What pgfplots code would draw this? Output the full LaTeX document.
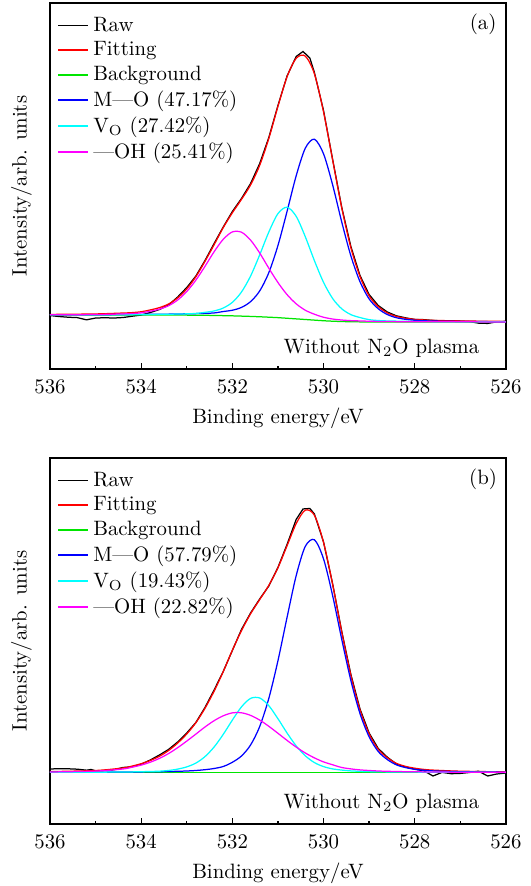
\documentclass[border=0pt]{standalone}
\usepackage{pgfplots}
\usepackage{pgfplotstable}
\pgfplotsset{compat=1.18}

\definecolor{fitred}{rgb}{1,0,0}
\definecolor{bggreen}{rgb}{0,0.9,0}
\definecolor{mocol}{rgb}{0,0,1}
\definecolor{vocol}{rgb}{0,1,1}
\definecolor{ohcol}{rgb}{1,0,1}

% panel (a): background and fitted components (background added), y in arb. units
\pgfplotstableread{
E bg mo vo oh fit
526.0 47.00 47.3 47.2 47.1 47.6
527.0 47.00 47.6 47.3 47.2 48.1
527.6 47.00 48.0 47.4 47.3 48.7
527.8 47.00 48.3 47.5 47.3 49.1
528.0 47.00 48.8 47.6 47.3 49.7
528.2 47.00 49.7 47.7 47.4 50.8
528.4 47.00 51.3 47.9 47.4 52.6
528.6 47.00 54.5 48.1 47.5 56.1
528.8 47.02 60.3 48.5 47.6 62.4
529.0 47.05 70.1 49.4 47.8 73.1
529.2 47.15 87.3 51.5 48.1 92.5
529.4 47.28 113.1 54.4 48.4 121.3
529.6 47.50 146.9 60.2 49.0 161.1
529.8 47.83 184.1 70.5 50.0 209.0
530.0 48.29 215.2 86.7 51.8 257.1
530.2 48.90 229.8 108.4 54.8 295.2
530.4 49.53 220.8 132.3 58.8 312.9
530.6 50.16 193.2 152.7 65.2 310.7
530.8 50.77 157.6 161.8 74.4 292.2
531.0 51.39 123.5 155.4 86.5 262.6
531.2 51.84 96.4 137.0 100.8 230.6
531.4 52.26 78.1 114.2 116.0 203.7
531.6 52.62 67.4 93.0 128.9 184.1
531.8 52.91 61.6 77.0 136.8 169.6
532.0 53.19 58.8 66.7 137.1 156.2
532.2 53.39 57.5 61.0 129.7 141.4
532.4 53.58 56.1 58.1 117.3 124.3
532.6 53.72 55.7 56.7 102.7 107.7
532.8 53.82 55.4 55.6 88.9 92.3
533.0 53.91 55.2 55.2 77.5 80.1
533.2 53.95 55.1 55.0 69.0 71.1
533.4 53.97 54.9 54.8 63.3 65.0
533.6 54.00 54.8 54.7 59.9 61.4
533.8 54.00 54.7 54.6 57.8 59.1
534.0 54.00 54.6 54.5 56.2 57.3
534.2 54.00 54.5 54.4 55.5 56.4
534.4 54.00 54.5 54.4 55.1 56.0
535.0 54.00 54.3 54.3 54.5 55.1
536.0 54.00 54.2 54.2 54.2 54.6
}\fitA

\pgfplotstableread{
E raw
526.0 47.8
526.2 47.2
526.4 45.6
526.6 45.9
526.8 47.4
527.0 47.9
527.2 48.4
527.4 48.2
527.6 48.6
527.8 49.4
528.0 49.6
528.2 51.2
528.4 53.2
528.6 57.0
528.8 63.5
529.0 74.5
529.2 93.5
529.4 122.5
529.6 161.5
529.8 209.5
530.0 258.5
530.2 296.5
530.3 311.0
530.45 317.5
530.6 312.5
530.8 293.0
531.0 263.5
531.2 231.5
531.4 205.5
531.6 185.5
531.8 170.5
532.0 157.5
532.2 142.0
532.4 125.5
532.6 108.5
532.8 93.0
533.0 81.5
533.2 72.0
533.4 64.0
533.6 59.5
533.8 56.5
534.0 54.0
534.2 52.8
534.4 51.5
534.6 51.0
534.8 51.3
535.0 51.0
535.2 49.2
535.4 51.4
535.6 51.8
535.8 52.5
536.0 53.5
}\rawA

% panel (b)
\pgfplotstableread{
E bg mo vo oh fit
526.0 51.5 51.8 51.6 51.7 52.1
527.0 51.5 52.3 51.7 51.8 52.8
527.6 51.5 53.1 51.8 52.0 53.9
527.8 51.5 53.7 51.8 52.1 54.6
528.0 51.5 54.7 51.9 52.2 55.8
528.2 51.5 56.4 51.9 52.3 57.6
528.4 51.5 59.1 52.0 52.5 60.6
528.6 51.5 64.4 52.1 52.7 66.2
528.8 51.5 72.5 52.2 53.0 74.7
529.0 51.5 87.2 52.4 53.5 90.1
529.2 51.5 110.4 52.7 54.1 114.2
529.4 51.5 143.4 53.1 55.1 148.6
529.6 51.5 184.5 53.9 56.5 191.9
529.8 51.5 228.3 55.1 59.2 239.6
530.0 51.5 265.1 57.4 62.1 281.6
530.2 51.5 284.2 61.4 66.1 308.7
530.4 51.5 277.6 68.2 71.0 313.8
530.6 51.5 248.3 78.1 76.9 300.3
530.8 51.5 206.6 91.0 83.6 278.2
531.0 51.5 163.2 105.3 90.7 256.2
531.2 51.5 125.6 118.3 97.7 238.6
531.4 51.5 97.5 126.0 103.9 224.4
531.6 51.5 79.0 125.6 108.6 210.2
531.8 51.5 68.0 117.1 111.2 193.3
532.0 51.5 61.7 103.9 111.1 173.7
532.2 51.5 57.5 89.6 108.2 152.3
532.4 51.5 55.5 77.0 103.3 132.8
532.6 51.5 54.3 67.4 97.0 115.7
532.8 51.5 53.5 60.9 89.9 101.3
533.0 51.5 53.0 57.1 82.9 90.0
533.2 51.5 52.7 54.9 76.3 80.9
533.4 51.5 52.5 53.5 70.4 73.4
533.6 51.5 52.3 52.8 65.6 67.7
533.8 51.5 52.2 52.5 61.8 63.5
534.0 51.5 52.1 52.3 58.9 60.3
534.2 51.5 52.0 52.1 56.8 57.9
534.4 51.5 52.0 52.0 55.0 56.0
535.0 51.5 51.8 51.8 52.9 53.5
536.0 51.5 51.7 51.7 52.0 52.4
}\fitB

\pgfplotstableread{
E raw
526.0 51.0
526.2 50.0
526.4 48.0
526.6 52.8
526.8 51.5
527.0 50.6
527.2 50.3
527.4 51.6
527.6 48.0
527.8 53.2
528.0 54.8
528.2 57.0
528.4 60.0
528.6 66.8
528.8 75.5
529.0 91.0
529.2 115.0
529.4 149.5
529.6 192.5
529.8 240.0
530.0 282.0
530.2 310.0
530.3 315.5
530.45 315.0
530.6 304.5
530.8 279.5
531.0 256.5
531.2 238.0
531.4 225.0
531.6 211.0
531.8 194.5
532.0 173.5
532.2 152.5
532.4 134.0
532.6 116.5
532.8 101.5
533.0 91.0
533.2 82.0
533.4 74.5
533.6 69.0
533.8 64.0
534.0 59.8
534.2 57.2
534.4 56.5
534.6 54.2
534.8 53.4
535.0 53.2
535.1 54.5
535.2 53.8
535.4 54.8
535.6 55.2
535.8 55.3
536.0 55.0
}\rawB

\pgfplotsset{
  xps/.style={
    width=219.2pt, height=176pt, scale only axis,
    xmin=526, xmax=536, x dir=reverse,
    ymin=0, ymax=366,
    xtick={526,528,...,536}, minor xtick={527,529,...,535},
    ytick=\empty,
    xtick pos=bottom, tick align=inside,
    major tick length=2.8pt, minor tick length=1.5pt,
    axis line style={line width=0.6pt},
    every tick/.style={black, line width=0.6pt},
    xticklabel style={yshift=-2pt},
    xlabel={Binding energy/eV}, ylabel={Intensity/arb. units},
    every axis x label/.style={at={(axis description cs:0.5,0)}, anchor=center, yshift=-23.8pt},
    every axis y label/.style={at={(axis description cs:-0.0625,0.5)}, anchor=center, rotate=90},
    legend style={draw=none, fill=none, at={(axis description cs:0,1)}, anchor=north west,
      inner sep=0pt, xshift=3.5pt, yshift=-4.5pt, row sep=-0.5pt, font=\normalsize},
    legend cell align=left,
    legend image code/.code={\draw[##1, line width=0.75pt] (0pt,0pt) -- (14.4pt,0pt);},
    every axis plot/.append style={line width=0.6pt},
  },
}

\begin{document}
\begin{tikzpicture}
\path[use as bounding box] (0,0) rectangle (255.3pt,426pt);

\begin{axis}[xps, at={(24.04pt,248.56pt)}, anchor=south west]
  \addplot[black] table[x=E, y=raw] {\rawA};
  \addplot[fitred, smooth] table[x=E, y=fit] {\fitA};
  \addplot[bggreen, smooth] table[x=E, y=bg] {\fitA};
  \addplot[mocol, smooth] table[x=E, y=mo] {\fitA};
  \addplot[vocol, smooth] table[x=E, y=vo] {\fitA};
  \addplot[ohcol, smooth] table[x=E, y=oh] {\fitA};
  \legend{Raw, Fitting, Background, M---O (47.17\%), V$_{\mathrm{O}}$ (27.42\%), ---OH (25.41\%)}
  \node at (axis description cs:0.95,0.942) {(a)};
  \node at (axis description cs:0.727,0.058) {Without N$_2$O plasma};
\end{axis}

\begin{axis}[xps, at={(24.04pt,29.81pt)}, anchor=south west]
  \addplot[black] table[x=E, y=raw] {\rawB};
  \addplot[fitred, smooth] table[x=E, y=fit] {\fitB};
  \addplot[bggreen, smooth] table[x=E, y=bg] {\fitB};
  \addplot[mocol, smooth] table[x=E, y=mo] {\fitB};
  \addplot[vocol, smooth] table[x=E, y=vo] {\fitB};
  \addplot[ohcol, smooth] table[x=E, y=oh] {\fitB};
  \legend{Raw, Fitting, Background, M---O (57.79\%), V$_{\mathrm{O}}$ (19.43\%), ---OH (22.82\%)}
  \node at (axis description cs:0.95,0.942) {(b)};
  \node at (axis description cs:0.727,0.058) {Without N$_2$O plasma};
\end{axis}
\end{tikzpicture}
\end{document}
